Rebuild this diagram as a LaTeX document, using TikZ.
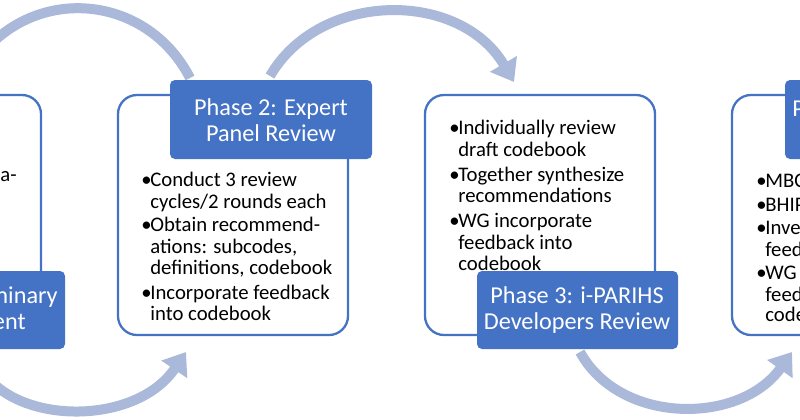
\documentclass[tikz,border=0pt]{standalone}
\usepackage{fontspec}
\setmainfont{Carlito}
\usetikzlibrary{arrows.meta}
\definecolor{hdr}{HTML}{4472C4}
\definecolor{arc}{HTML}{AAB8DA}
\begin{document}
\begin{tikzpicture}[x=0.02cm,y=-0.02cm,
  outl/.style={draw=hdr,line width=1.3pt,rounded corners=0.38cm,fill=white},
  hbox/.style={fill=hdr,rounded corners=0.1cm},
  htext/.style={text=white,align=center,font=\fontsize{13.8}{14.6}\selectfont,inner sep=0},
  line/.style={anchor=base west,inner sep=0,font=\fontsize{11.8}{13}\selectfont},
  flow/.style={draw=arc,line width=0.2cm,-{Triangle[width=0.6cm,length=0.42cm]}},
  flown/.style={draw=arc,line width=0.2cm}]
\useasboundingbox (0,0) rectangle (800,419);
\clip (0,0) rectangle (800,419);
% arcs
\coordinate (a0) at (-10,45);
\coordinate (a1) at (190,78);
\coordinate (b0) at (270,76);
\coordinate (b1) at (514,82);
\coordinate (c0) at (-5,385);
\coordinate (c1) at (186,352);
\coordinate (d0) at (580,352);
\coordinate (d1) at (792,352);
\draw[flown] (a0) .. controls (50,-15) and (150,0) .. (a1);
\draw[flow] (b0) .. controls (320,-10) and (460,-10) .. (b1);
\draw[flow] (c0) .. controls (40,425) and (140,420) .. (c1);
\draw[flow] (d0) .. controls (620,425) and (740,425) .. (d1);
% box 1
\draw[outl] (-40,95) rectangle (41,335);
\node[line] (t1) at (0,181) {a-};
\fill[hbox] (-150,271) rectangle (65,349);
\node[anchor=east,text=white,inner sep=0,font=\fontsize{13.8}{14.6}\selectfont] (h1a) at (58,297) {Phase 1: Preliminary};
\node[anchor=east,text=white,inner sep=0,font=\fontsize{13.8}{14.6}\selectfont] (h1b) at (26,323) {Development};
% box 2
\draw[outl] (118,95) rectangle (348,335);
\fill[hbox] (170,80) rectangle (372,159);
\node[htext] (h2) at (271,120) {Phase 2: Expert\\Panel Review};
\foreach \y/\t [count=\i] in {186/{Conduct 3 review},208/{cycles/2 rounds each},231/{Obtain recommend-},253/{ations: subcodes,},274/{definitions, codebook},299/{Incorporate feedback},320/{into codebook}}
  \node[line] (l2\i) at (150,\y) {\t};
\foreach \y [count=\i] in {186,231,299}
  \node[line] (b2\i) at (141,\y) {\textbullet};
% box 3
\draw[outl] (425,95) rectangle (655,335);
\foreach \y/\t [count=\i] in {134/{Individually review},156/{draft codebook},181/{Together synthesize},202/{recommendations},227/{WG incorporate},249/{feedback into},270/{codebook}}
  \node[line] (l3\i) at (458,\y) {\t};
\foreach \y [count=\i] in {134,181,227}
  \node[line] (b3\i) at (449,\y) {\textbullet};
\fill[hbox] (477,271) rectangle (678,349);
\node[htext] (h3) at (577,310) {Phase 3: i-PARIHS\\Developers Review};
% box 4
\draw[outl] (732,95) rectangle (1000,335);
\fill[hbox] (785,80) rectangle (1000,159);
\node[anchor=west,text=white,inner sep=0,font=\fontsize{13.8}{14.6}\selectfont] (h4) at (792,108) {Phase 4};
\foreach \y/\t [count=\i] in {187/{MBC Review},211/{BHIP Review},234/{Investigator},256/{feedback},279/{WG incorporate},301/{feedback into},321/{codebook}}
  \node[line] (l4\i) at (765,\y) {\t};
\foreach \y [count=\i] in {187,211,234,279}
  \node[line] (b4\i) at (756,\y) {\textbullet};
\end{tikzpicture}
\end{document}
